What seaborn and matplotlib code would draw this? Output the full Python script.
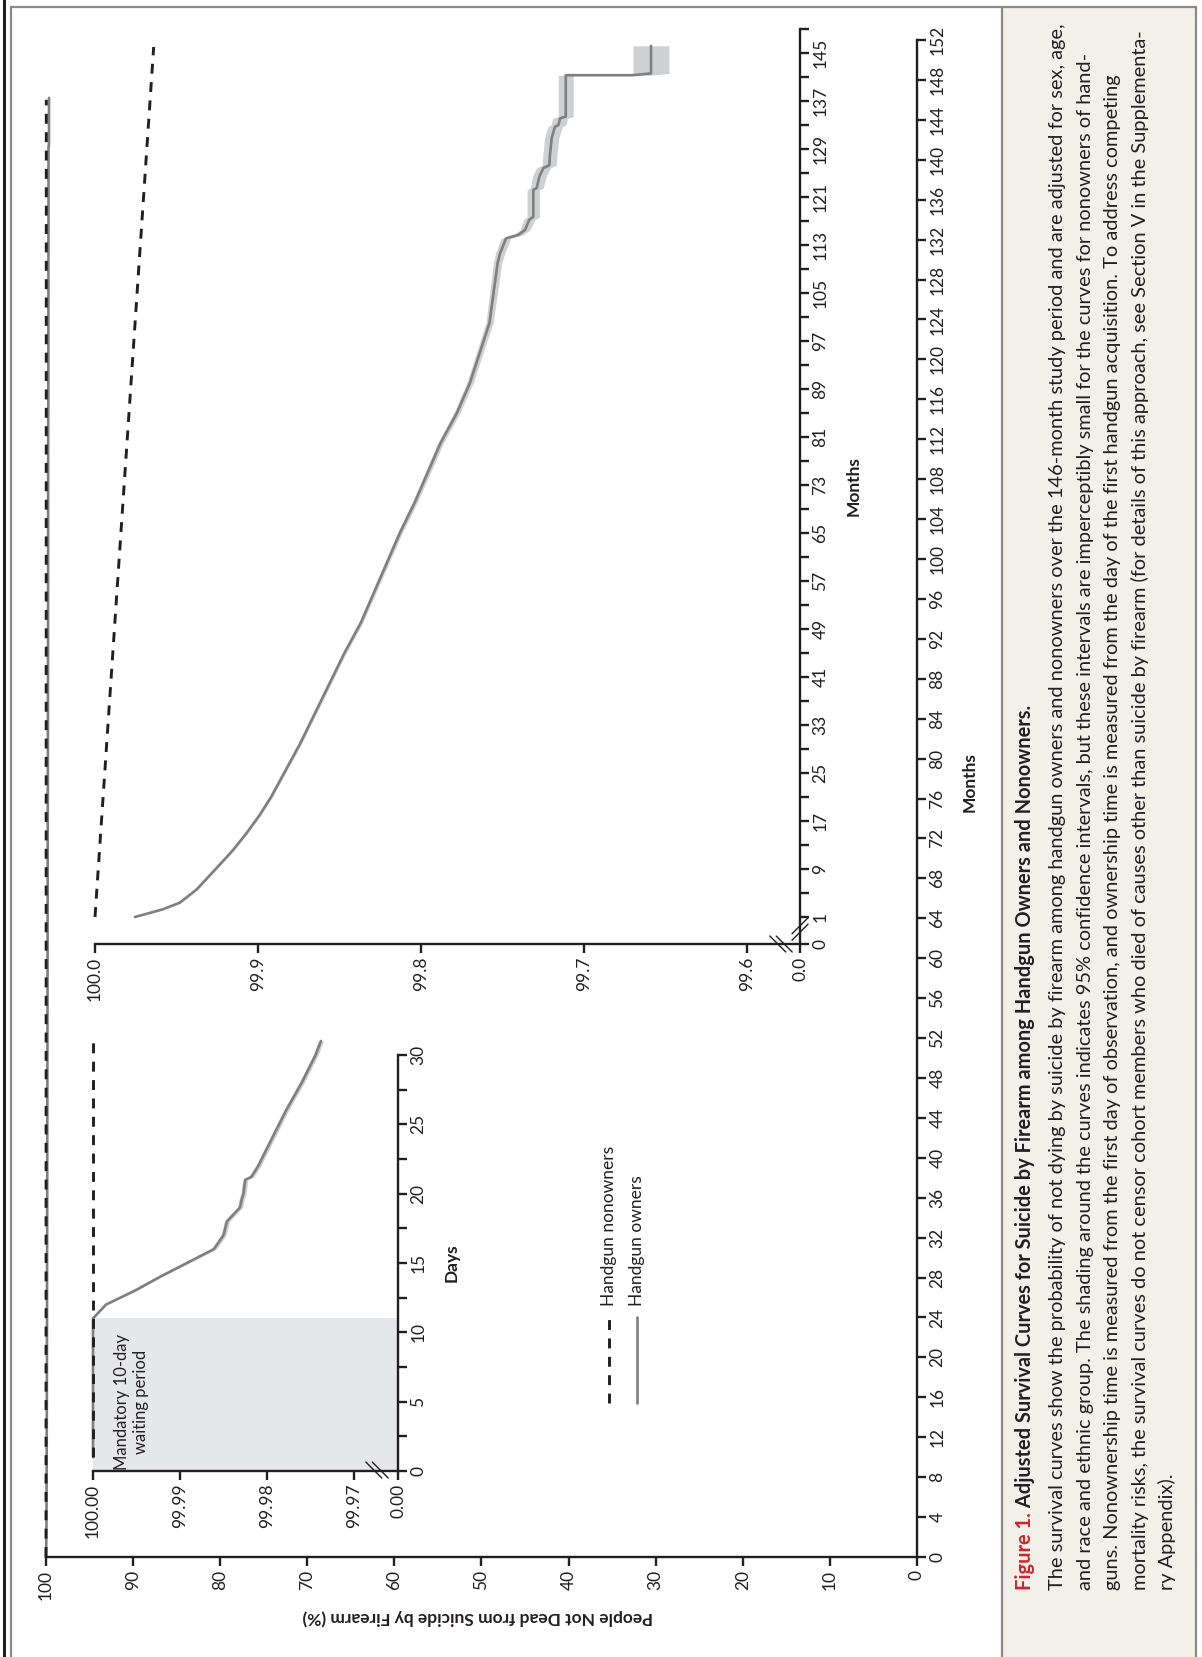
import matplotlib
matplotlib.use('Agg')
import matplotlib.pyplot as plt
import seaborn as sns
from matplotlib.lines import Line2D
from matplotlib.patches import Rectangle

sns.set_style('ticks')
plt.rcParams['font.family'] = ['Lato', 'DejaVu Sans']

W, H, DPI = 1202, 1657, 100

# ---------------- data ----------------
main_value_ticks = [0, 10, 20, 30, 40, 50, 60, 70, 80, 90, 100]
main_month_ticks = list(range(0, 153, 4))

day_ticks = [0, 5, 10, 15, 20, 25, 30]
day_minor = [2.5, 7.5, 12.5, 17.5, 22.5, 27.5]
day_value_ticks = [100.00, 99.99, 99.98, 99.97]
day_value_labels = ['100.00', '99.99', '99.98', '99.97']
waiting_period = [0, 11]

days_owner = [1, 11, 12, 13, 14, 15, 16, 17, 18, 18.2, 19, 19.6, 20, 21, 21.2, 22, 23,
              24, 25, 26, 27, 28, 29, 30, 31]
surv_days_owner = [100.0, 100.0, 99.9985, 99.9952, 99.9923, 99.9892, 99.9861, 99.9850, 99.9846,
                   99.9843, 99.9831, 99.9829, 99.9827, 99.9825, 99.9818, 99.9810,
                   99.9802, 99.9794, 99.9786, 99.9778, 99.9769, 99.9760, 99.9752, 99.9744,
                   99.9738]
ci_days_owner = [0.0, 0.0, 0.0001, 0.0002, 0.0002, 0.0003, 0.0003, 0.0003, 0.0003, 0.0003,
                 0.0003, 0.0003, 0.0003, 0.0003, 0.0003, 0.0003, 0.0003, 0.0003, 0.0003,
                 0.0003, 0.0003, 0.0003, 0.0003, 0.0003, 0.0003]
days_nonowner = [1, 31]
surv_days_nonowner = [100.0, 100.0]

month_ticks = list(range(1, 146, 8))
month_minor = list(range(5, 150, 8))
month_value_ticks = [100.0, 99.9, 99.8, 99.7, 99.6]
month_value_labels = ['100.0', '99.9', '99.8', '99.7', '99.6']

months_owner = [0, 1, 2.3, 3.4, 5.6, 8, 11, 12.2, 15, 18, 21, 25, 30, 35, 40, 45, 50, 55, 60,
                65, 70, 75, 80, 85, 90, 95, 100, 105, 110, 111.6, 114.1, 114.7, 115.5, 117.2,
                117.7, 122.2, 122.5, 124.4, 125.8, 126.3, 128, 130.9, 132.7, 133, 134.1,
                134.4, 141.3, 141.3, 141.6, 146.2]
surv_months_owner = [100.0, 99.9755, 99.9581, 99.9479, 99.9376, 99.9294, 99.9192, 99.9152,
                     99.907, 99.899, 99.892, 99.884, 99.874, 99.865, 99.856, 99.847, 99.837,
                     99.829, 99.821, 99.813, 99.804, 99.796, 99.788, 99.778, 99.770, 99.764,
                     99.758, 99.7555, 99.753, 99.7515, 99.7479, 99.7403, 99.7362, 99.7336,
                     99.7311, 99.7311, 99.729, 99.7274, 99.725, 99.7213, 99.7209, 99.7198,
                     99.7178, 99.7157, 99.7147, 99.7112, 99.7112, 99.6704, 99.6589, 99.6589]
ci_months_owner = [0.0, 0.0003, 0.0004, 0.0005, 0.0006, 0.0006, 0.0007, 0.0007, 0.0008,
                   0.0008, 0.0009, 0.0009, 0.001, 0.001, 0.0011, 0.0011, 0.0012, 0.0013,
                   0.0014, 0.0015, 0.0016, 0.0017, 0.0018, 0.0019, 0.002, 0.0021, 0.0022,
                   0.0024, 0.0026, 0.0028, 0.003, 0.003, 0.003, 0.0035, 0.0038, 0.0038,
                   0.004, 0.0042, 0.0043, 0.0043, 0.0043, 0.0044, 0.0045, 0.0045, 0.0046,
                   0.0046, 0.0046, 0.011, 0.011, 0.011]
months_nonowner = [0, 1, 146]
surv_months_nonowner = [100.0, 100.0, 99.964]

caption_title = 'Figure 1.'
caption_heading = ' Adjusted Survival Curves for Suicide by Firearm among Handgun Owners and Nonowners.'
caption_lines = [
    'The survival curves show the probability of not dying by suicide by firearm among handgun owners and nonowners over the 146-month study period and are adjusted for sex, age,',
    'and race and ethnic group. The shading around the curves indicates 95% confidence intervals, but these intervals are imperceptibly small for the curves for nonowners of hand-',
    'guns. Nonownership time is measured from the first day of observation, and ownership time is measured from the day of the first handgun acquisition. To address competing',
    'mortality risks, the survival curves do not censor cohort members who died of causes other than suicide by firearm (for details of this approach, see Section V in the Supplementa-',
    'ry Appendix).',
]

# ---------------- styling ----------------
OWN = '#7f7f7f'
CI = '#cfd0d2'
SHADE = '#e6e7e8'
INK = '#231f20'
DASH = (0, (3.4, 2.9))
DASH_LW = 2.1
AXW = 1.7
TICK_FONT = ['Liberation Sans Narrow', 'Lato', 'DejaVu Sans']


def px_rect(l, t, r, b):
    return [l / W, 1 - b / H, (r - l) / W, (b - t) / H]


def fx(x):
    return x / W


def fy(y):
    return 1 - y / H


def style_axes(ax):
    ax.set_facecolor('none')
    for s in ['left', 'top']:
        ax.spines[s].set_visible(False)
    for s in ['bottom', 'right']:
        ax.spines[s].set_linewidth(AXW)
        ax.spines[s].set_color(INK)
    ax.yaxis.tick_right()
    ax.tick_params(which='both', direction='out', length=6.5, width=AXW, color=INK,
                   labelsize=12.5, pad=2.5, labelcolor=INK)


fig = plt.figure(figsize=(W / DPI, H / DPI), dpi=DPI)

# frame and caption panel
fig.add_artist(Rectangle((fx(1002), fy(1657)), fx(1196) - fx(1002), fy(8) - fy(1657),
                         transform=fig.transFigure, facecolor='#f3f0ea', edgecolor='none', zorder=0))
for xs, ys, c, lw in [([11, 11], [7, 1657], '#8a8a8a', 1.6), ([11, 1196], [7, 7], '#8a8a8a', 1.6),
                      ([1196, 1196], [7, 1657], '#8a8a8a', 1.6), ([1002, 1002], [7, 1657], '#8a8a8a', 1.6),
                      ([4, 4], [0, 1657], INK, 2.2)]:
    fig.add_artist(Line2D([fx(v) for v in xs], [fy(v) for v in ys], color=c, lw=lw))

# ---------------- main panel ----------------
ax = fig.add_axes(px_rect(46, 40, 917, 1557))
style_axes(ax)
sns.lineplot(x=surv_months_owner, y=months_owner, sort=False, estimator=None, orient='y',
             ax=ax, color=OWN, lw=1.9, clip_on=False)
sns.lineplot(x=[surv_months_nonowner[0], surv_months_nonowner[-1]],
             y=[months_nonowner[0], months_nonowner[-1]], sort=False, estimator=None, orient='y',
             ax=ax, color=INK, lw=DASH_LW, linestyle=DASH, clip_on=False)
ax.set_xlim(100, 0)
ax.set_ylim(0, 152)
ax.set_xticks(main_value_ticks, [str(v) for v in main_value_ticks], rotation=90,
              family=TICK_FONT)
ax.set_yticks(main_month_ticks, [str(v) for v in main_month_ticks], rotation=90, va='center',
              family=TICK_FONT)
ax.set_xlabel('')
ax.set_ylabel('')

# ---------------- inset: days ----------------
fake_zero_days = 99.96494
ax1 = fig.add_axes(px_rect(93, 1041, 398, 1471))
style_axes(ax1)
ax1.axhspan(waiting_period[0], waiting_period[1], color=SHADE, lw=0, zorder=0)
lo = [s - c for s, c in zip(surv_days_owner, ci_days_owner)]
hi = [s + c for s, c in zip(surv_days_owner, ci_days_owner)]
ax1.fill_betweenx(days_owner, lo, hi, color=CI, lw=0, zorder=1, clip_on=False)
sns.lineplot(x=surv_days_owner, y=days_owner, sort=False, estimator=None, orient='y',
             ax=ax1, color=OWN, lw=1.9, zorder=2, clip_on=False)
sns.lineplot(x=surv_days_nonowner, y=days_nonowner, sort=False, estimator=None, orient='y',
             ax=ax1, color=INK, lw=DASH_LW, linestyle=DASH, zorder=3, clip_on=False)
ax1.set_xlim(100.0, fake_zero_days)
ax1.set_ylim(0, 31)
ax1.spines['right'].set_bounds(0, 30)
ax1.set_xticks(day_value_ticks + [fake_zero_days], day_value_labels + ['0.00'], rotation=90,
               family=TICK_FONT)
ax1.set_yticks(day_ticks, [str(v) for v in day_ticks], rotation=90, va='center', family=TICK_FONT)
ax1.set_yticks(day_minor, minor=True)
ax1.set_xlabel('')
ax1.set_ylabel('')
ax1.text(99.99555, 5.0, 'Mandatory 10-day\nwaiting period', rotation=90, ha='center',
         va='center', multialignment='center', fontsize=12, color=INK)

# ---------------- inset: months ----------------
fake_zero_val = 99.5675
fake_zero_month = -3.5
ax2 = fig.add_axes(px_rect(95, 29, 800, 944))
style_axes(ax2)
lo = [s - c for s, c in zip(surv_months_owner[1:], ci_months_owner[1:])]
hi = [s + c for s, c in zip(surv_months_owner[1:], ci_months_owner[1:])]
ax2.fill_betweenx(months_owner[1:], lo, hi, color=CI, lw=0, zorder=1)
sns.lineplot(x=surv_months_owner[1:], y=months_owner[1:], sort=False, estimator=None, orient='y',
             ax=ax2, color=OWN, lw=1.9, zorder=2)
sns.lineplot(x=surv_months_nonowner[1:], y=months_nonowner[1:], sort=False, estimator=None,
             orient='y', ax=ax2, color=INK, lw=DASH_LW, linestyle=DASH, zorder=3, clip_on=False)
ax2.set_xlim(100.0, fake_zero_val)
ax2.set_ylim(fake_zero_month, 149)
ax2.set_xticks(month_value_ticks + [fake_zero_val], month_value_labels + ['0.0'], rotation=90,
               family=TICK_FONT)
ax2.set_yticks([fake_zero_month] + month_ticks, ['0'] + [str(v) for v in month_ticks],
               rotation=90, va='center', family=TICK_FONT)
ax2.set_yticks(month_minor, minor=True)
ax2.set_xlabel('')
ax2.set_ylabel('')


# axis break marks
def axis_break(x, y, vertical=False):
    for o in (-3.2, 3.2):
        if vertical:
            xs, ys = [x - 8, x + 8], [y + 8 + o, y - 8 + o]
        else:
            xs, ys = [x - 8 + o, x + 8 + o], [y - 8, y + 8]
        fig.add_artist(Line2D([fx(v) for v in xs], [fy(v) for v in ys], color=INK, lw=1.0))


axis_break(377, 1470)
axis_break(781, 944)
axis_break(800, 929, vertical=True)

# legend keys
fig.add_artist(Line2D([fx(609), fx(609)], [fy(1403), fy(1317)], color=INK, lw=DASH_LW,
                      linestyle=DASH))
fig.add_artist(Line2D([fx(637), fx(637)], [fy(1403), fy(1317)], color=OWN, lw=1.9))
fig.text(fx(609), fy(1306), 'Handgun nonowners', rotation=90, ha='center', va='bottom',
         fontsize=12.5, color=INK)
fig.text(fx(637), fy(1306), 'Handgun owners', rotation=90, ha='center', va='bottom',
         fontsize=12.5, color=INK)

# axis titles
fig.text(fx(478), fy(1617), 'People Not Dead from Suicide by Firearm (%)', rotation=180,
         ha='center', va='center', fontsize=12.5, weight='bold', color=INK)
fig.text(fx(970), fy(782), 'Months', rotation=90, ha='center', va='center', fontsize=12.5,
         weight='bold', color=INK)
fig.text(fx(854), fy(486), 'Months', rotation=90, ha='center', va='center', fontsize=12.5,
         weight='bold', color=INK)
fig.text(fx(452), fy(1263), 'Days', rotation=90, ha='center', va='center', fontsize=12.5,
         weight='bold', color=INK)

# ---------------- caption ----------------
renderer = fig.canvas.get_renderer()
probe = fig.text(0, 0, caption_lines[0], fontsize=14)
cap_size = 14 * 1572 / probe.get_window_extent(renderer).width
probe.remove()

t1 = fig.text(fx(1031), fy(1590), caption_title, rotation=90, rotation_mode='anchor',
              ha='left', va='baseline', fontsize=cap_size, weight='bold', color='#d2232a')
bb = t1.get_window_extent(renderer)
fig.text(fx(1031), bb.y1 / H, caption_heading, rotation=90, rotation_mode='anchor',
         ha='left', va='baseline', fontsize=cap_size, weight='bold', color=INK)
for i, line in enumerate(caption_lines):
    fig.text(fx(1063 + 27.6 * i), fy(1590), line, rotation=90, rotation_mode='anchor',
             ha='left', va='baseline', fontsize=cap_size, color=INK)

fig.savefig('out.png', dpi=DPI)
